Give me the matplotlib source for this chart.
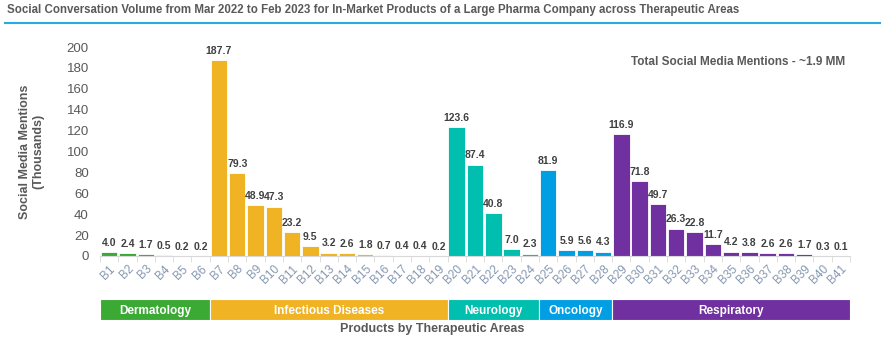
import matplotlib
matplotlib.use("Agg")
import matplotlib.pyplot as plt
from matplotlib.patches import Rectangle

plt.rcParams['font.family'] = ['Liberation Sans', 'DejaVu Sans']

# data
products = ['B%d' % i for i in range(1, 42)]
mentions = [4.0, 2.4, 1.7, 0.5, 0.2, 0.2,
            187.7, 79.3, 48.9, 47.3, 23.2, 9.5, 3.2, 2.6, 1.8, 0.7, 0.4, 0.4, 0.2,
            123.6, 87.4, 40.8, 7.0, 2.3,
            81.9, 5.9, 5.6, 4.3,
            116.9, 71.8, 49.7, 26.3, 22.8, 11.7, 4.2, 3.8, 2.6, 2.6, 1.7, 0.3, 0.1]
areas = ['Dermatology', 'Infectious Diseases', 'Neurology', 'Oncology', 'Respiratory']
area_sizes = [6, 13, 5, 4, 13]
area_colors = ['#3aaa35', '#f0b323', '#00bfae', '#009fe3', '#7030a0']

bar_colors = []
for size, col in zip(area_sizes, area_colors):
    bar_colors += [col] * size

fig = plt.figure(figsize=(8.85, 3.47), dpi=100)
W, H = 885, 347

ax = fig.add_axes([100 / W, 1 - 256 / H, 750 / W, (256 - 47) / H])
x = list(range(len(products)))
ax.bar(x, mentions, width=0.9, color=bar_colors, edgecolor='white', linewidth=0.6)
for xi, v in zip(x, mentions):
    ax.text(xi, v + 4, '%.1f' % v, ha='center', va='bottom', fontsize=7.5,
            fontweight='bold', color='#404040')

ax.set_xlim(-0.5, len(products) - 0.5)
ax.set_ylim(0, 200)
ax.set_yticks(range(0, 201, 20))
ax.tick_params(axis='y', length=0, labelsize=9.5, labelcolor='#595959', pad=8)
ax.set_xticks(x)
ax.set_xticklabels(products, rotation=45, ha='right', rotation_mode='anchor',
                   fontsize=8.5, color='#8497b0')
ax.set_xticks([i + 0.5 for i in range(-1, len(products))], minor=True)
ax.tick_params(axis='x', which='major', length=0, pad=5)
ax.tick_params(axis='x', which='minor', length=4, color='#d9d9d9')
for s in ['top', 'right', 'left']:
    ax.spines[s].set_visible(False)
ax.spines['bottom'].set_color('#d9d9d9')

ax.set_ylabel('Social Media Mentions\n(Thousands)', fontsize=9, fontweight='bold',
              color='#595959', labelpad=16)
ax.text(0.993, 0.93, 'Total Social Media Mentions - ~1.9 MM', transform=ax.transAxes,
        ha='right', va='center', fontsize=8.5, fontweight='bold', color='#595959')

# therapeutic area band
band = fig.add_axes([100 / W, 1 - 320 / H, 750 / W, 21 / H])
band.set_xlim(-0.5, len(products) - 0.5)
band.set_ylim(0, 1)
band.axis('off')
start = -0.5
for name, size, col in zip(areas, area_sizes, area_colors):
    band.add_patch(Rectangle((start, 0), size, 1, facecolor=col, edgecolor='white', linewidth=0.8))
    band.text(start + size / 2, 0.45, name, ha='center', va='center', fontsize=8.5,
              fontweight='bold', color='white')
    start += size

fig.text(432 / W, 1 - 329 / H, 'Products by Therapeutic Areas', ha='center', va='center',
         fontsize=9, fontweight='bold', color='#595959')

# title and rule
fig.text(7 / W, 1 - 10 / H, 'Social Conversation Volume from Mar 2022 to Feb 2023 for In-Market '
         'Products of a Large Pharma Company across Therapeutic Areas',
         ha='left', va='center', fontsize=8.3, fontweight='bold', color='#595959')
fig.add_artist(plt.Line2D([5 / W, 880 / W], [1 - 23 / H, 1 - 23 / H], color='#29abe2', linewidth=1.5))

fig.savefig('out.png', dpi=100)
